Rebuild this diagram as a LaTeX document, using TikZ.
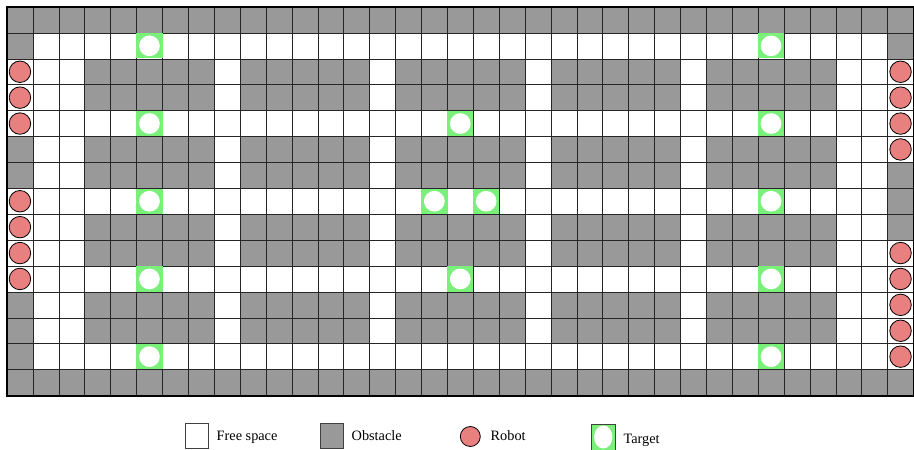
\documentclass[tikz,border=0pt]{standalone}
\usepackage{fontspec}
\setmainfont{Liberation Serif}
\definecolor{obst}{RGB}{153,153,153}
\definecolor{tgt}{RGB}{122,240,122}
\definecolor{rob}{RGB}{232,128,128}
\begin{document}
\begin{tikzpicture}[
  obstcell/.style={fill=obst},
  tgtcell/.style={fill=tgt},
  tgtdot/.style={fill=white},
  gridline/.style={line width=0.6pt, black!85},
  robotdot/.style={fill=rob, draw=black, line width=0.8pt},
  legbox/.style={draw=black!75, line width=0.9pt},
  legtext/.style={anchor=base west, inner sep=0pt, font=\fontsize{14.3}{17}\selectfont}
]
\useasboundingbox (0,0) rectangle (914pt,-450pt);
\fill[white] (0,0) rectangle (914pt,-450pt);
\begin{scope}[xshift=7pt, yshift=-7pt, x=25.9pt, y=-25.9pt]
  % obstacles: top and bottom rows
  \fill[obstcell] (0,0) rectangle (35,1);
  \fill[obstcell] (0,14) rectangle (35,15);
  % left column
  \foreach \r in {1,5,6,11,12,13} \fill[obstcell] (0,\r) rectangle ++(1,1);
  % right column
  \foreach \r in {1,6,7,8} \fill[obstcell] (34,\r) rectangle ++(1,1);
  % interior blocks
  \foreach \b in {3,9,15,21,27}
    \foreach \r in {2,3,5,6,8,9,11,12}
      \fill[obstcell] (\b,\r) rectangle ++(5,1);
  % grid
  \foreach \c in {1,...,34} \draw[gridline] (\c,0) -- (\c,15);
  \foreach \r in {1,...,14} \draw[gridline] (0,\r) -- (35,\r);
  % targets
  \foreach \c/\r in {5/1,5/4,5/7,5/10,5/13,29/1,29/4,29/7,29/10,29/13,17/4,17/10,16/7,18/7} {
    \fill[tgtcell] (\c-0.01,\r+0.015) rectangle ++(1.02,0.97);
    \fill[tgtdot] (\c+0.5,\r+0.5) circle[radius=0.4];
  }
  % robots
  \foreach \r in {2,3,4,7,8,9,10}
    \draw[robotdot] (0.5,\r+0.5) circle[radius=0.415];
  \foreach \r in {2,3,4,5,9,10,11,12,13}
    \draw[robotdot] (34.5,\r+0.5) circle[radius=0.415];
  % outer border
  \draw[line width=2pt] (0,0) rectangle (35,15);
\end{scope}
% legend
\draw[legbox, fill=white] (185pt,-423pt) rectangle (208pt,-448pt);
\node[legtext] (lfree) at (216.5pt,-440.5pt) {Free space};
\draw[legbox, fill=obst] (320.7pt,-423pt) rectangle (343.3pt,-448pt);
\node[legtext] (lobst) at (351.5pt,-440.5pt) {Obstacle};
\draw[robotdot] (470.3pt,-436.5pt) circle[radius=10pt];
\node[legtext] (lrob) at (490.5pt,-440.5pt) {Robot};
\draw[legbox, fill=tgt] (591.7pt,-424pt) rectangle (615pt,-450pt);
\fill[white] (603.3pt,-437pt) ellipse[x radius=9.2pt, y radius=11.5pt];
\node[legtext] (ltgt) at (623.3pt,-443pt) {Target};
\end{tikzpicture}
\end{document}
